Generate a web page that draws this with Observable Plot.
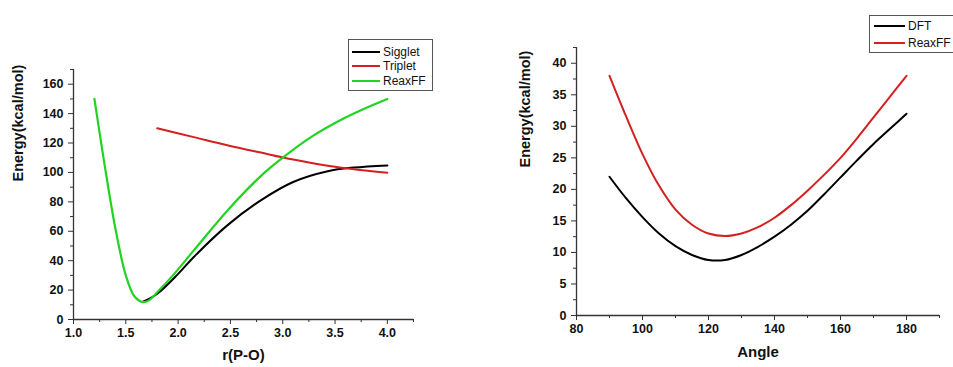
<!DOCTYPE html>
<html>
<head>
<meta charset="utf-8">
<script src="https://cdn.jsdelivr.net/npm/d3@7"></script>
<script src="https://cdn.jsdelivr.net/npm/@observablehq/plot@0.6"></script>
<style>
  html, body { margin: 0; padding: 0; background: #fff; overflow: hidden; }
  #wrap { position: relative; width: 953px; height: 367px; overflow: hidden; font-family: "Liberation Sans", Arial, sans-serif; }
  .panel { position: absolute; top: 0; }
  .legend { position: absolute; border: 1px solid #555; background: #fff; font-size: 12px; color: #111; box-sizing: border-box; }
  .legend .row { position: absolute; left: 0; display: flex; align-items: center; white-space: nowrap; }
  .legend .sw { display: inline-block; height: 2px; }
</style>
</head>
<body>
<div id="wrap"></div>
<script>
// ---- Left panel: P-O bond dissociation ----
const rSinglet = [1.66,1.8,2.0,2.15,2.47,2.79,3.1,3.43,3.68,4.0];
const eSinglet = [11.9,17.5,31,42.5,64,81,93.5,100.8,103.3,104.8];
const rTriplet = [1.8,2.15,2.47,2.79,3.1,3.43,3.68,4.0];
const eTriplet = [130,124,118.5,113.5,108.8,104.6,102.2,99.8];
const rReaxL = [1.2,1.3,1.4,1.5,1.58,1.66,1.72,1.8,1.95,2.15,2.47,2.79,3.0,3.27,3.59,3.8,4.0];
const eReaxL = [150,104,62,30,16,11.9,13,18.5,30,47,74,97.5,110,124,137,144,150];
const leftNames = ["Sigglet","Triplet","ReaxFF"];
const leftColors = ["#000000","#d42020","#22d322"];
const leftXTicks = [1.0,1.5,2.0,2.5,3.0,3.5,4.0];
const leftXMinor = [1.25,1.75,2.25,2.75,3.25,3.75,4.25];
const leftYTicks = [0,20,40,60,80,100,120,140,160];
const leftYMinor = [10,30,50,70,90,110,130,150,170];

// ---- Right panel: angle bending ----
const angle = [90,95,100,105,110,115,120,125,130,135,140,145,150,155,160,165,170,175,180];
const eDFT = [22,18.6,15.6,13.0,11.0,9.6,8.8,8.8,9.6,10.9,12.5,14.4,16.6,19.2,21.9,24.6,27.2,29.6,32];
const eReaxR = [38,31.6,25.6,20.6,16.8,14.4,13.0,12.6,13.0,14.0,15.5,17.5,19.8,22.3,25.0,28.1,31.4,34.7,38];
const rightNames = ["DFT","ReaxFF"];
const rightColors = ["#000000","#d42020"];
const rightXTicks = [80,100,120,140,160,180];
const rightXMinor = [90,110,130,150,170,190];
const rightYTicks = [0,5,10,15,20,25,30,35,40];
const rightYMinor = [2.5,7.5,12.5,17.5,22.5,27.5,32.5,37.5,42.5];

const toRows = (xs, ys) => xs.map((x, i) => ({x, y: ys[i]}));
const FONT = "Liberation Sans, Arial, sans-serif";
const AX = "#333";
const CURVE = "catmull-rom";

function axes(xT, xM, yT, yM, fmtX, xmin) {
  return [
    Plot.ruleX([xmin], {stroke: AX, strokeWidth: 1.3}),
    Plot.ruleY([0], {stroke: AX, strokeWidth: 1.3}),
    Plot.axisX({ticks: xT, tickSize: 5, tickPadding: 4, tickFormat: fmtX, stroke: AX, fontWeight: "bold", fontSize: 12.5, fill: "#111"}),
    Plot.axisX({ticks: xM, tickSize: 3, tickFormat: () => "", stroke: AX}),
    Plot.axisY({ticks: yT, tickSize: 5, tickPadding: 5, tickFormat: d => String(d), stroke: AX, fontWeight: "bold", fontSize: 12.5, fill: "#111"}),
    Plot.axisY({ticks: yM, tickSize: 3, tickFormat: () => "", stroke: AX})
  ];
}

const left = Plot.plot({
  width: 476, height: 367,
  marginLeft: 73, marginRight: 63, marginTop: 69, marginBottom: 48,
  style: {fontFamily: FONT, background: "transparent"},
  x: {domain: [1.0, 4.25], label: null},
  y: {domain: [0, 170], label: null},
  marks: [
    ...axes(leftXTicks, leftXMinor, leftYTicks, leftYMinor, d => d.toFixed(1), 1.0),
    Plot.line(toRows(rSinglet, eSinglet), {x: "x", y: "y", stroke: leftColors[0], strokeWidth: 2, curve: CURVE}),
    Plot.line(toRows(rTriplet, eTriplet), {x: "x", y: "y", stroke: leftColors[1], strokeWidth: 2, curve: CURVE}),
    Plot.line(toRows(rReaxL, eReaxL), {x: "x", y: "y", stroke: leftColors[2], strokeWidth: 2.2, curve: CURVE}),
    Plot.text(["Energy(kcal/mol)"], {frameAnchor: "left", dx: -55, dy: -13, rotate: -90, fontSize: 14.5, fontWeight: "bold", fill: "#111"}),
    Plot.text(["r(P-O)"], {frameAnchor: "bottom", dy: 40, fontSize: 15, fontWeight: "bold", fill: "#111"})
  ]
});

const right = Plot.plot({
  width: 477, height: 367,
  marginLeft: 100, marginRight: 14, marginTop: 47, marginBottom: 52,
  style: {fontFamily: FONT, background: "transparent"},
  x: {domain: [80, 190], label: null},
  y: {domain: [0, 42.5], label: null},
  marks: [
    ...axes(rightXTicks, rightXMinor, rightYTicks, rightYMinor, d => String(d), 80),
    Plot.line(toRows(angle, eDFT), {x: "x", y: "y", stroke: rightColors[0], strokeWidth: 2, curve: CURVE}),
    Plot.line(toRows(angle, eReaxR), {x: "x", y: "y", stroke: rightColors[1], strokeWidth: 2, curve: CURVE}),
    Plot.text(["Energy(kcal/mol)"], {frameAnchor: "left", dx: -51, dy: -14, rotate: -90, fontSize: 14.5, fontWeight: "bold", fill: "#111"}),
    Plot.text(["Angle"], {frameAnchor: "bottom", dy: 41, fontSize: 15, fontWeight: "bold", fill: "#111"})
  ]
});

const wrap = document.getElementById("wrap");
left.classList.add("panel"); left.style.left = "0px";
right.classList.add("panel"); right.style.left = "476px";
wrap.appendChild(left);
wrap.appendChild(right);

function legend(names, colors, box, lineX, lineW, textX, rowY) {
  const lg = d3.select(wrap).append("div").attr("class", "legend")
    .style("left", box.x + "px").style("top", box.y + "px")
    .style("width", box.w + "px").style("height", box.h + "px");
  names.forEach((n, i) => {
    const row = lg.append("div").attr("class", "row")
      .style("top", (rowY[i] - box.y - 8) + "px").style("height", "16px");
    row.append("span").attr("class", "sw")
      .style("margin-left", (lineX - box.x - 1) + "px")
      .style("width", lineW + "px").style("background", colors[i]);
    row.append("span").text(n).style("margin-left", (textX - lineX - lineW) + "px");
  });
}
legend(leftNames, leftColors, {x: 348, y: 39, w: 85, h: 52}, 352, 28, 383, [50.7, 65.3, 80.3]);
legend(rightNames, rightColors, {x: 869, y: 15, w: 100, h: 38}, 874, 31, 908, [25.3, 41.7]);
</script>
</body>
</html>
